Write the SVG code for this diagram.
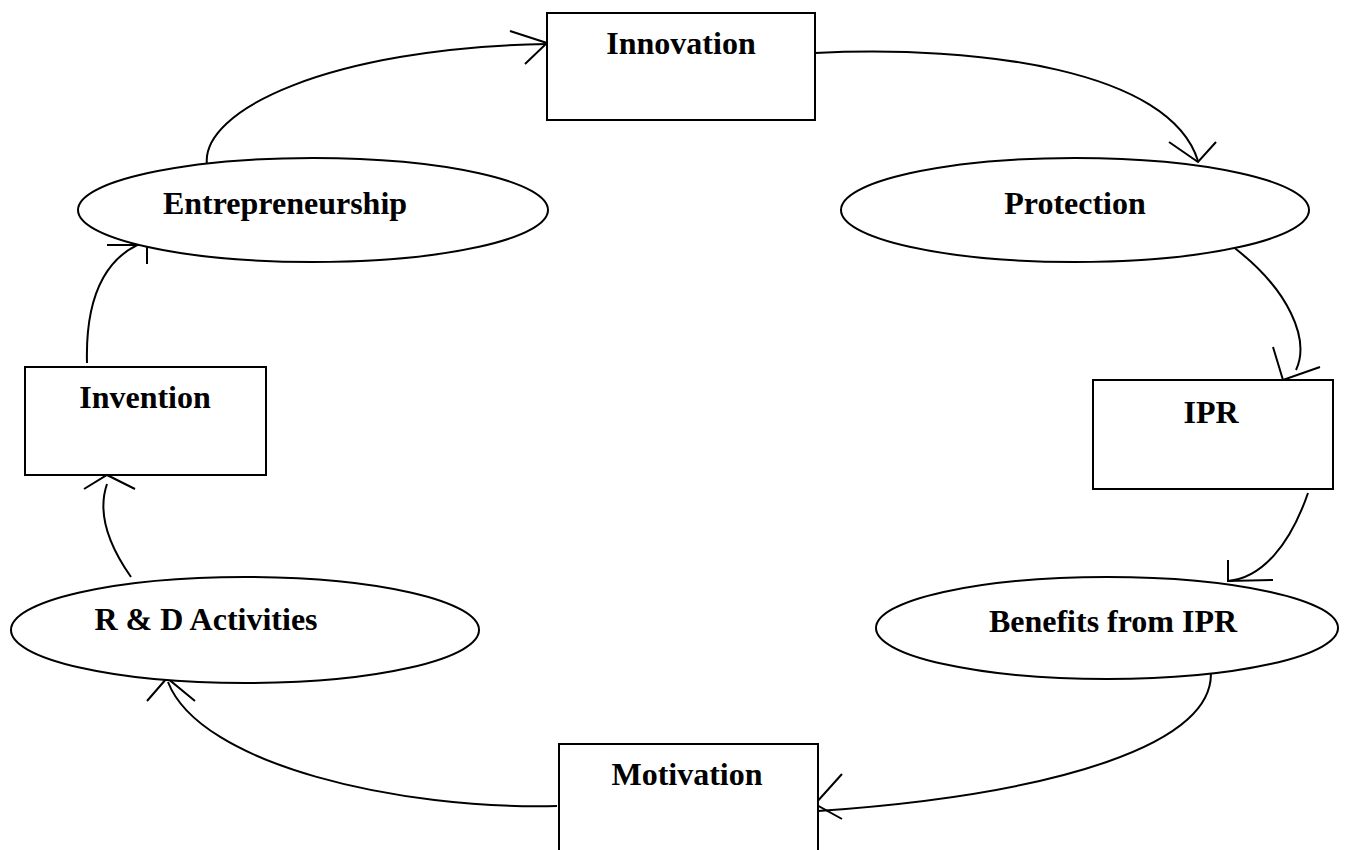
<svg xmlns="http://www.w3.org/2000/svg" width="1351" height="850" viewBox="0 0 1351 850">
<style>
.n{fill:#fff;stroke:#000;stroke-width:2}
.t{font-family:"Liberation Serif","Times New Roman",serif;font-weight:bold;font-size:32px;fill:#000;text-anchor:middle}
.c{fill:none;stroke:#000;stroke-width:2}
</style>
<rect width="1351" height="850" fill="#fff"/>
<g id="connectors">
<path class="c" d="M207,165 C200,110 330,48 547,44"/>
<path class="c" d="M510,31 L547,43 L525,64"/>
<path class="c" d="M815,53 C980,45 1170,70 1198,161"/>
<path class="c" d="M1169,142 L1198,162 L1216,142"/>
<path class="c" d="M1232,246 C1290,290 1310,340 1296,370"/>
<path class="c" d="M1273,347 L1283,380 L1320,367"/>
<path class="c" d="M1308,493 C1290,545 1262,578 1228,581"/>
<path class="c" d="M1228,560 L1228,581 L1273,580"/>
<path class="c" d="M1210,665 C1225,745 1050,795 818,811"/>
<path class="c" d="M842,774 L815,804 L842,819"/>
<path class="c" d="M557,806 C400,810 200,765 168,682"/>
<path class="c" d="M147,701 L167,678 L195,701"/>
<path class="c" d="M131,577 C105,540 98,510 107,484"/>
<path class="c" d="M84,489 L107,475 L135,489"/>
<path class="c" d="M87,363 C85,290 110,250 154,239"/>
<path class="c" d="M107,245 L140,245 M147,245 L147,264"/>
</g>
<g id="innovation"><rect class="n" x="547" y="13" width="268" height="107"/><text class="t" x="681" y="54">Innovation</text></g>
<g id="protection"><ellipse class="n" cx="1075" cy="210" rx="234" ry="52"/><text class="t" x="1075" y="214">Protection</text></g>
<g id="ipr"><rect class="n" x="1093" y="380" width="240" height="109"/><text class="t" x="1211" y="423">IPR</text></g>
<g id="benefits"><ellipse class="n" cx="1107" cy="628" rx="231" ry="51"/><text class="t" x="1113" y="632">Benefits from IPR</text></g>
<g id="motivation"><rect class="n" x="559" y="744" width="259" height="120"/><text class="t" x="687" y="785">Motivation</text></g>
<g id="rnd"><ellipse class="n" cx="245" cy="630" rx="234" ry="53"/><text class="t" x="206" y="630">R &amp; D Activities</text></g>
<g id="invention"><rect class="n" x="25" y="367" width="241" height="108"/><text class="t" x="145" y="408">Invention</text></g>
<g id="entrepreneurship"><ellipse class="n" cx="313" cy="210" rx="235" ry="52"/><text class="t" x="285" y="214">Entrepreneurship</text></g>
</svg>
